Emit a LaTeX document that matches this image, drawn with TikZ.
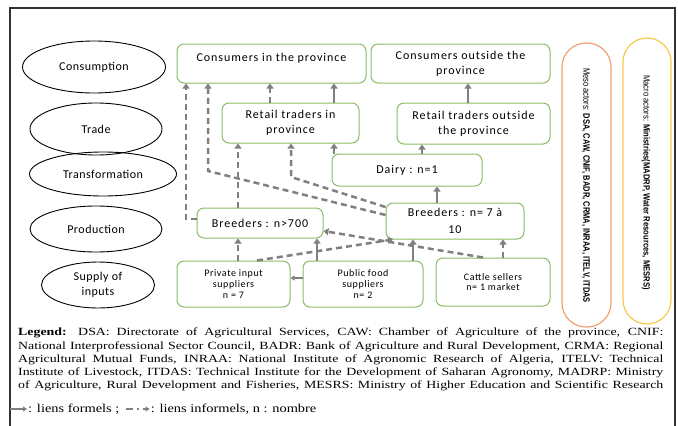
\documentclass[tikz,border=0pt]{standalone}
\usepackage{fontspec}
\setmainfont{Liberation Serif}
\newfontfamily\boxfnt[LetterSpace=8]{Carlito}
\newfontfamily\ellfnt[LetterSpace=4]{Carlito}
\newfontfamily\smallfnt[LetterSpace=6]{Carlito}
\newfontfamily\vfnt{Liberation Sans}
\usetikzlibrary{arrows.meta,shapes.geometric}
\definecolor{boxgreen}{RGB}{140,188,102}
\definecolor{arrowgray}{RGB}{128,128,128}
\definecolor{pillorange}{RGB}{240,160,110}
\definecolor{pillyellow}{RGB}{247,200,75}
\begin{document}
\begin{tikzpicture}[x=1pt,y=-1pt,
  box/.style={draw=boxgreen, line width=1pt, rounded corners=7pt, fill=white, align=center, inner sep=0pt, font=\boxfnt\fontsize{12}{15}\selectfont},
  smallbox/.style={box, font=\smallfnt\fontsize{10}{10.8}\selectfont},
  ell/.style={draw=black, line width=0.9pt, ellipse, inner sep=0pt, align=center, font=\ellfnt\fontsize{12}{15}\selectfont},
  formal/.style={draw=arrowgray, line width=2.5pt, -{Triangle[width=7pt,length=5pt]}},
  informal/.style={formal, dash pattern=on 6pt off 4pt},
  pill/.style={line width=1.2pt, rounded corners=24pt},
  legformal/.style={draw=arrowgray, line width=1.2pt, -{Triangle[width=5pt,length=4pt]}},
  legtext/.style={anchor=west, inner sep=0pt, font=\fontsize{12}{13}\selectfont}
]
\useasboundingbox (0,0) rectangle (678,426);
% frame
\draw[line width=1.4pt, draw=black!80] (10,432) -- (10,8) -- (675,8) -- (675,432);

% level ellipses
\node[ell, minimum width=143pt, minimum height=52pt] (econs) at (94,67) {Consumption};
\node[ell, minimum width=132pt, minimum height=52pt] (etrade) at (96,129) {Trade};
\node[ell, minimum width=147pt, minimum height=44pt] (etrans) at (103,174) {Transformation};
\node[ell, minimum width=132pt, minimum height=46pt] (eprod) at (96,229) {Production};
\node[ell, minimum width=113pt, minimum height=46pt] (esup) at (98,285) {Supply of\\inputs};

% boxes
\node[box, minimum width=189pt, minimum height=39pt] (cin) at (271.5,63.5) {Consumers in the province\\[-3pt]\mbox{}};
\node[box, minimum width=179pt, minimum height=39pt] (cout) at (460.5,63.5) {Consumers outside the\\province};
\node[box, minimum width=137pt, minimum height=40pt] (rin) at (290.5,123) {Retail traders in\\province};
\node[box, minimum width=153pt, minimum height=41pt] (rout) at (473.5,123.5) {Retail traders outside\\the province};
\node[box, minimum width=150pt, minimum height=32pt] (dairy) at (407,170) {Dairy : n=1};
\node[box, minimum width=126pt, minimum height=30pt] (b700) at (260,223) {Breeders : n>700};
\node[box, minimum width=138pt, minimum height=36pt, font=\boxfnt\fontsize{12}{16.5}\selectfont] (b710) at (455,221) {Breeders : n= 7 à\\10};
\node[smallbox, minimum width=113pt, minimum height=46pt] (priv) at (233.5,284) {Private input\\suppliers\\n = 7};
\node[smallbox, minimum width=120pt, minimum height=46pt] (pub) at (363,284) {Public food\\suppliers\\n= 2};
\node[smallbox, minimum width=114pt, minimum height=48pt] (cattle) at (493,282) {Cattle sellers\\n= 1 market};

% pills
\draw[pill, draw=pillorange] (562,43) rectangle (611,327);
\draw[pill, draw=pillyellow] (623,38) rectangle (671,324);
\node[rotate=-90, inner sep=0pt] (mesotxt) at (586,185.5) {\resizebox{235pt}{6.5pt}{\vfnt Meso actors: \textbf{DSA, CAW, CNIF, BADR, CRMA, INRAA, ITELV, ITDAS}}};
\node[rotate=-90, inner sep=0pt] (macrotxt) at (646,182.5) {\resizebox{215pt}{6.5pt}{\vfnt Macro actors: \textbf{Ministries(MADRP, Water Resources, MESRS)}}};

% corner coordinates
\coordinate (k1) at (186,219);
\coordinate (k2) at (208,171);
\coordinate (k3) at (291,177);

% formal links
\draw[formal] (rin.north -| 334,0) -- (cin.south -| 334,0);
\draw[formal] (dairy.north -| 334,0) -- (rin.south -| 334,0);
\draw[formal] (dairy.north -| 422,0) -- (rout.south -| 422,0);
\draw[formal] (rout.north -| 468,0) -- (cout.south -| 468,0);
\draw[formal] (b710.north -| 437,0) -- (dairy.south -| 437,0);
\draw[formal] (pub.north -| 317,0) -- (b700.south -| 317,0);
\draw[formal] (pub.north -| 413,0) -- (b710.south -| 413,0);
\draw[formal, line width=1.5pt, -{Triangle[width=5pt,length=4pt]}] (pub.west |- 0,278) -- (priv.east |- 0,278);

% informal links
\draw[informal] (b700.west |- k1) -- (k1) -- (cin.south -| k1);
\draw[informal] (b710.west |- 0,215) -- (k2) -- (cin.south -| k2);
\draw[informal] (rin.north -| 270,0) -- (cin.south -| 270,0);
\draw[informal] (b700.north -| 238,0) -- (rin.south -| 238,0);
\draw[informal] (b710.west |- 0,207) -- (k3) -- (rin.south -| k3);
\draw[informal] (priv.north -| 238,0) -- (b700.south -| 238,0);
\draw[informal] (priv.north -| 257,0) -- (b710.south -| 393,0);
\draw[informal] (cattle.north -| 503,0) -- (b710.south -| 503,0);
\draw[informal] (cattle.north -| 483,0) -- (b700.east |- 0,231);

% legend
\node[anchor=north west, inner sep=0pt] (legend) at (18,328) {\scalebox{1.26}[1]{\parbox[t]{512pt}{\fontsize{11}{13.25}\selectfont\hyphenpenalty=10000\exhyphenpenalty=10000\parfillskip=0pt\textbf{Legend:} DSA: Directorate of Agricultural Services, CAW: Chamber of Agriculture of the province, CNIF:\linebreak National Interprofessional Sector Council, BADR: Bank of Agriculture and Rural Development, CRMA: Regional\linebreak Agricultural Mutual Funds, INRAA: National Institute of Agronomic Research of Algeria, ITELV: Technical\linebreak Institute of Livestock, ITDAS: Technical Institute for the Development of Saharan Agronomy, MADRP: Ministry\linebreak of Agriculture, Rural Development and Fisheries, MESRS: Ministry of Higher Education and Scientific Research}}};

\coordinate (lf0) at (10,409);
\coordinate (lf1) at (27,409);
\draw[legformal] (lf0) -- (lf1);
\node[legtext] (lt1) at (28,409) {\scalebox{1.2}[1]{: liens formels ;}};
\coordinate (li0) at ([xshift=6pt]lt1.east);
\coordinate (li1) at ([xshift=30pt]lt1.east);
\draw[legformal, dash pattern=on 7pt off 4pt on 2pt off 4pt] (li0) -- (li1);
\node[legtext] (lt2) at ([xshift=1pt]li1) {\scalebox{1.2}[1]{: liens informels, n : nombre}};
\end{tikzpicture}
\end{document}
